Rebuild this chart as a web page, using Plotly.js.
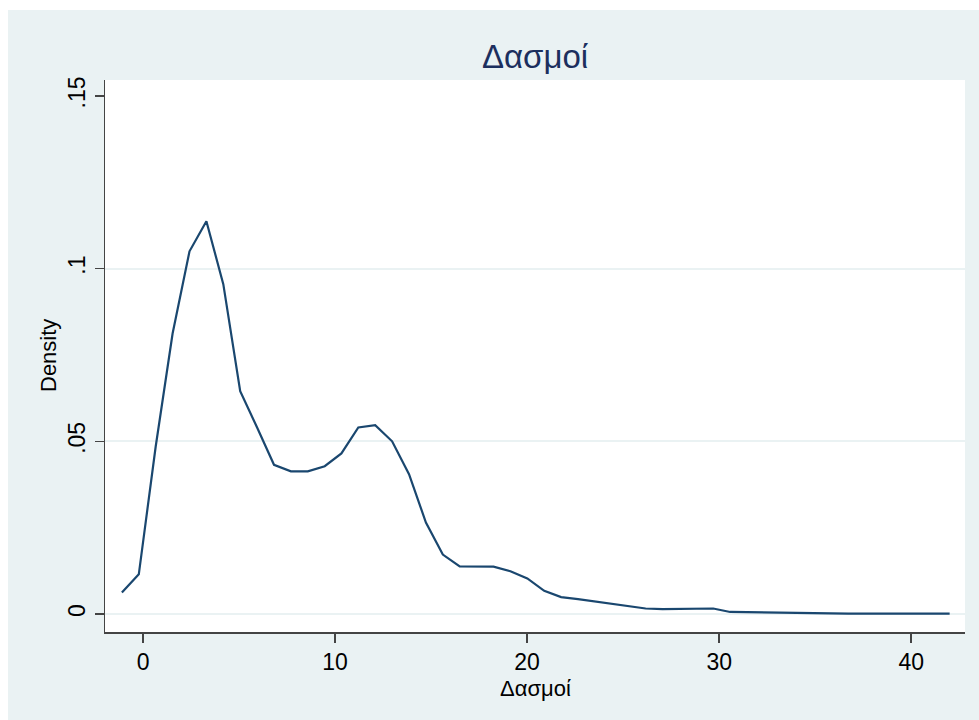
<!DOCTYPE html>
<html>
<head>
<meta charset="utf-8">
<script src="https://cdn.plot.ly/plotly-3.0.1.min.js"></script>
<style>
  html, body { margin: 0; padding: 0; background: #ffffff; }
  #chart { position: absolute; left: 8px; top: 10px; width: 971px; height: 710px; }
</style>
</head>
<body>
<div id="chart"></div>
<script>
// Kernel density estimate of "Δασμοί" (evaluation points and density values)
const tariffX = [
  -1.10, -0.22, 0.66, 1.54, 2.42, 3.30, 4.18, 5.06, 5.94, 6.82,
   7.70, 8.58, 9.46, 10.33, 11.21, 12.09, 12.97, 13.85, 14.73, 15.61,
  16.49, 17.37, 18.25, 19.13, 20.01, 20.89, 21.77, 22.65, 23.53, 24.41,
  25.29, 26.17, 27.05, 27.93, 28.81, 29.69, 30.57, 31.45, 32.33, 33.21,
  34.08, 34.96, 35.84, 36.72, 37.60, 38.48, 39.36, 40.24, 41.12, 42.00
];
const densityY = [
  0.0062, 0.0115, 0.0485, 0.0812, 0.1050, 0.1137, 0.0955, 0.0645, 0.0540, 0.0432,
  0.0413, 0.0413, 0.0428, 0.0465, 0.0540, 0.0547, 0.0500, 0.0405, 0.0265, 0.0172,
  0.0138, 0.0137, 0.0137, 0.0124, 0.0103, 0.0067, 0.0049, 0.0043, 0.0036, 0.0029,
  0.0022, 0.0016, 0.0014, 0.0014, 0.0014, 0.0016, 0.0006, 0.0005, 0.0005, 0.0005,
  0.0004, 0.0002, 0.0001, 0.0001, 0.0001, 0.0001, 0.0001, 0.0001, 0.0001, 0.0001
];
const xTickVals = [0, 10, 20, 30, 40];
const xTickText = ['0', '10', '20', '30', '40'];
const yTickVals = [0, 0.05, 0.1, 0.15];
const yTickText = ['0', '.05', '.1', '.15'];
const yGridVals = [0, 0.05, 0.1];
const titleText = 'Δασμοί';
const xTitleText = 'Δασμοί';
const yTitleText = 'Density';

const FONT = '"Liberation Sans", Arial, sans-serif';
const BG = '#eaf2f3';
const LINE = '#1a476f';
const yRange = [-0.0052, 0.1546];

const traces = [{
  type: 'scatter',
  mode: 'lines',
  x: tariffX,
  y: densityY,
  line: { color: LINE, width: 2.2 },
  hoverinfo: 'x+y',
  showlegend: false
}];

const layout = {
  width: 971,
  height: 710,
  paper_bgcolor: BG,
  plot_bgcolor: '#ffffff',
  margin: { l: 97, r: 14, t: 70, b: 88 },
  font: { family: FONT, color: '#000000', size: 22 },
  title: {
    text: titleText,
    font: { family: FONT, size: 33, color: '#1c2f5e' },
    x: 0.5, xref: 'paper', xanchor: 'center',
    y: 0.934, yref: 'container', yanchor: 'middle'
  },
  xaxis: {
    range: [-1.98, 42.8],
    tickmode: 'array',
    tickvals: xTickVals,
    ticktext: xTickText,
    ticks: 'outside', ticklen: 9, tickwidth: 1.5, tickcolor: '#444444',
    showline: true, linecolor: '#444444', linewidth: 1.5,
    showgrid: false, zeroline: false,
    tickfont: { family: FONT, size: 23, color: '#000000' },
    fixedrange: true
  },
  yaxis: {
    range: yRange,
    tickmode: 'array',
    tickvals: yTickVals,
    ticktext: yTickText,
    tickangle: -90,
    ticks: 'outside', ticklen: 9, tickwidth: 1.5, tickcolor: '#444444',
    showline: true, linecolor: '#444444', linewidth: 1.5,
    showgrid: false, zeroline: false,
    tickfont: { family: FONT, size: 23, color: '#000000' },
    fixedrange: true
  },
  yaxis2: {
    range: yRange,
    overlaying: 'y',
    side: 'left',
    tickmode: 'array',
    tickvals: yGridVals,
    showticklabels: false,
    ticks: '',
    showgrid: true, gridcolor: BG, gridwidth: 2,
    zeroline: false, showline: false,
    fixedrange: true
  },
  annotations: [
    {
      text: yTitleText, xref: 'paper', yref: 'paper',
      x: -57 / 860, y: 0.5, xanchor: 'center', yanchor: 'middle',
      textangle: -90, showarrow: false,
      font: { family: FONT, size: 22, color: '#000000' }
    },
    {
      text: xTitleText, xref: 'paper', yref: 'paper',
      x: 0.5, y: -56 / 552, xanchor: 'center', yanchor: 'middle',
      showarrow: false,
      font: { family: FONT, size: 22, color: '#000000' }
    }
  ]
};

// invisible trace to activate the grid axis
traces.unshift({
  type: 'scatter', mode: 'lines', x: [tariffX[0]], y: [densityY[0]],
  yaxis: 'y2', line: { width: 0 }, hoverinfo: 'skip', showlegend: false
});

Plotly.newPlot('chart', traces, layout, { displayModeBar: false, staticPlot: true });
</script>
</body>
</html>
